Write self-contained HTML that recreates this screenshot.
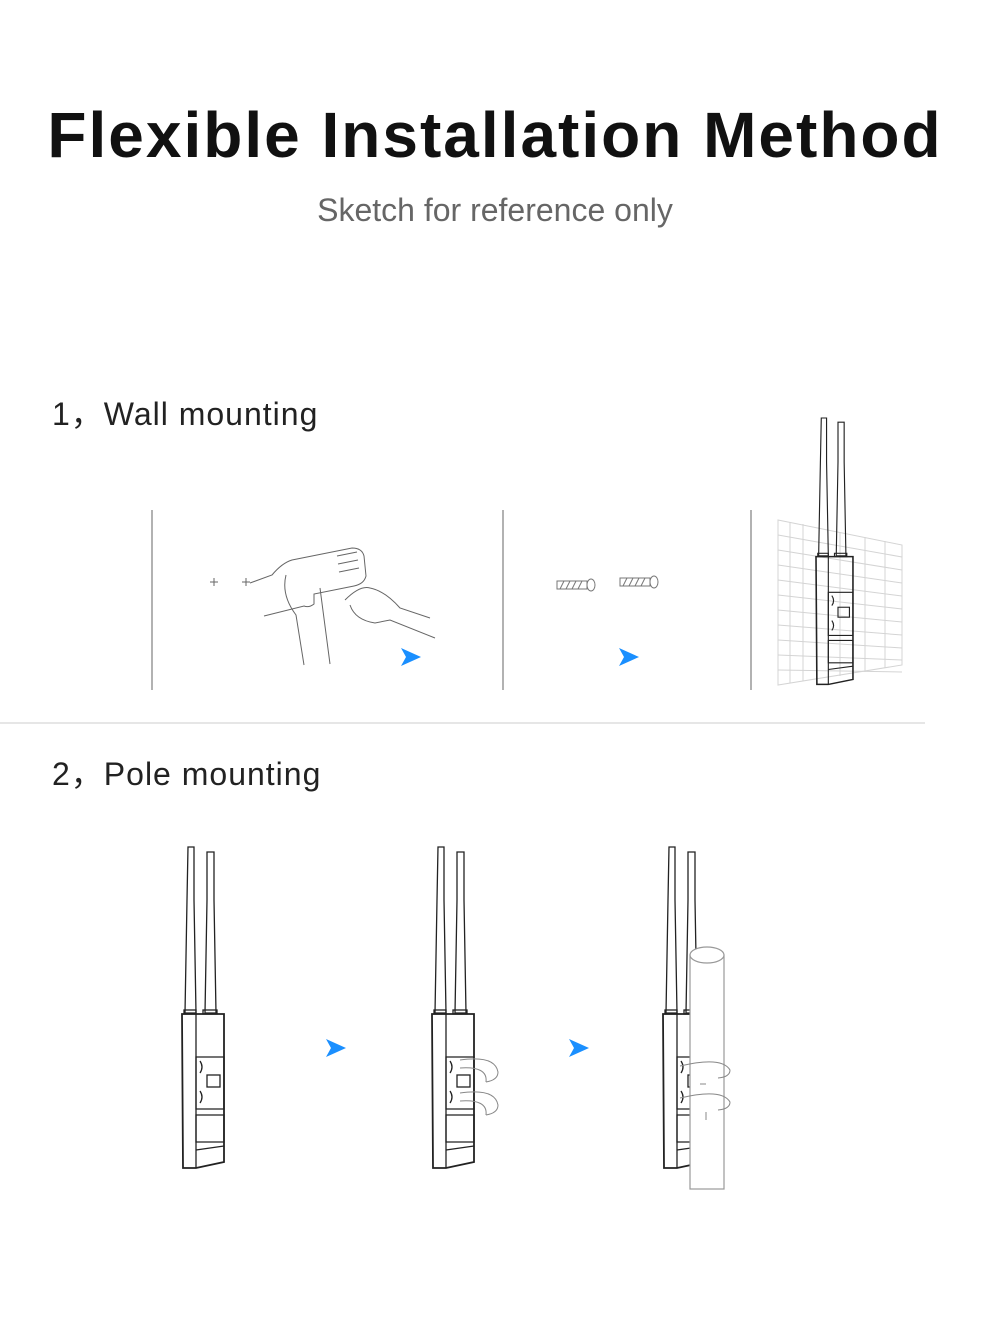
<!DOCTYPE html>
<html><head><meta charset="utf-8"><style>
html,body{margin:0;padding:0;background:#fff;width:990px;height:1322px;overflow:hidden}
.t{position:absolute;left:0;width:990px;text-align:center;font-family:"Liberation Sans",sans-serif}
</style></head><body>
<div class="t" style="top:98px;font-size:64px;font-weight:bold;letter-spacing:2px;color:#111">Flexible Installation Method</div>
<div class="t" style="top:192px;font-size:32px;color:#666;font-weight:300">Sketch for reference only</div>
<div style="position:absolute;left:52px;top:389px;font:32px 'Liberation Sans',sans-serif;color:#222;letter-spacing:1px">1，Wall mounting</div>
<div style="position:absolute;left:52px;top:749px;font:32px 'Liberation Sans',sans-serif;color:#222;letter-spacing:1px">2，Pole mounting</div>
<svg width="990" height="1322" style="position:absolute;left:0;top:0" fill="none" stroke="#222" stroke-width="1.3">
<defs>
<g id="dev">
 <path d="M6 0 h6 v53 l2 113 h-11 l2 -113z"/>
 <path d="M25 5 h7 v48 l2 113 h-11 l2 -113z"/>
 <rect x="2" y="163" width="12" height="4"/><rect x="21" y="163" width="14" height="4"/>
 <path d="M0 167 h42 v148 l-28 6 h-13 z" stroke-width="1.8"/>
 <path d="M14 167 v154"/>
 <path d="M14 210 h28 v52 h-28z"/>
 <path d="M18 214 q4 6 0 12 M18 244 q4 6 0 12"/>
 <rect x="25" y="228" width="13" height="12"/>
 <path d="M14 268 h28 v27 h-28z"/>
 <path d="M14 303 l28 -4"/>
</g>
</defs>
<g stroke="#999" stroke-width="1.5">
<line x1="152" y1="510" x2="152" y2="690"/><line x1="503" y1="510" x2="503" y2="690"/><line x1="751" y1="510" x2="751" y2="690"/>
</g>
<line x1="0" y1="723" x2="925" y2="723" stroke="#ddd" stroke-width="1.5"/>
<g fill="#1a8fff" stroke="none">
<path d="M401 648 l20 9 l-20 9 l5 -9z"/><path d="M619 648 l20 9 l-20 9 l5 -9z"/>
<path d="M326 1039 l20 9 l-20 9 l5 -9z"/><path d="M569 1039 l20 9 l-20 9 l5 -9z"/>
</g>
<g stroke="#666" stroke-width="1">
<path d="M210 582 h8 M214 578 v8 M242 582 h8 M246 578 v8"/>
<path d="M250 583 l22 -8 q10 -12 20 -15 l60 -12 q10 0 12 8 l2 20 q-2 8 -12 10 l-40 8 l0 10 q-5 4 -10 2 l-40 10"/>
<path d="M286 575 q-5 20 10 40 l8 50 M320 588 l10 76 M345 600 q15 -15 25 -12 q15 3 30 20 l30 10 M350 605 q5 15 25 18 l15 -3 l45 18"/>
<path d="M337 556 l20 -4 M338 564 l20 -4 M339 572 l20 -4"/>
</g>
<g stroke="#777" stroke-width="1">
<rect x="557" y="581" width="30" height="8"/><ellipse cx="591" cy="585" rx="4" ry="6"/>
<rect x="620" y="578" width="30" height="8"/><ellipse cx="654" cy="582" rx="4" ry="6"/>
<path d="M560 589 l4 -8 M566 589 l4 -8 M572 589 l4 -8 M578 589 l4 -8 M623 586 l4 -8 M629 586 l4 -8 M635 586 l4 -8 M641 586 l4 -8"/>
</g>
<g stroke="#d4d4d4" stroke-width="1">
<path d="M778 520 L902 545 V665 L778 685 Z"/>
<path d="M778 535 L902 557 M778 550 L902 570 M778 565 L902 583 M778 580 L902 596 M778 595 L902 609 M778 610 L902 622 M778 625 L902 635 M778 640 L902 648 M778 655 L902 660 M778 670 L902 672"/>
<path d="M790 522 V683 M803 524 V681 M840 532 V676 M865 537 V672 M885 541 V668"/>
</g>
<g transform="translate(816,418) scale(0.88,0.83)"><use href="#dev"/></g>
<use href="#dev" x="182" y="847"/>
<use href="#dev" x="432" y="847"/>
<use href="#dev" x="663" y="847"/>
<g stroke="#888" stroke-width="1">
<path d="M460 1060 q35 -5 38 12 q0 8 -12 10 M460 1068 q28 -2 26 14"/>
<path d="M460 1093 q35 -5 38 12 q0 8 -12 10 M460 1101 q28 -2 26 14"/>
</g>
<g stroke="#999" stroke-width="1.2">
<rect x="690" y="955" width="34" height="234" fill="#fff"/>
<ellipse cx="707" cy="955" rx="17" ry="8" fill="#fff"/>
</g>
<g stroke="#888" stroke-width="1">
<path d="M680 1066 q42 -10 50 4 q0 7 -12 8 M680 1098 q42 -10 50 4 q0 7 -12 8 M706 1120 v-8 M700 1084 h6"/>
</g>
</svg>
</body></html>
